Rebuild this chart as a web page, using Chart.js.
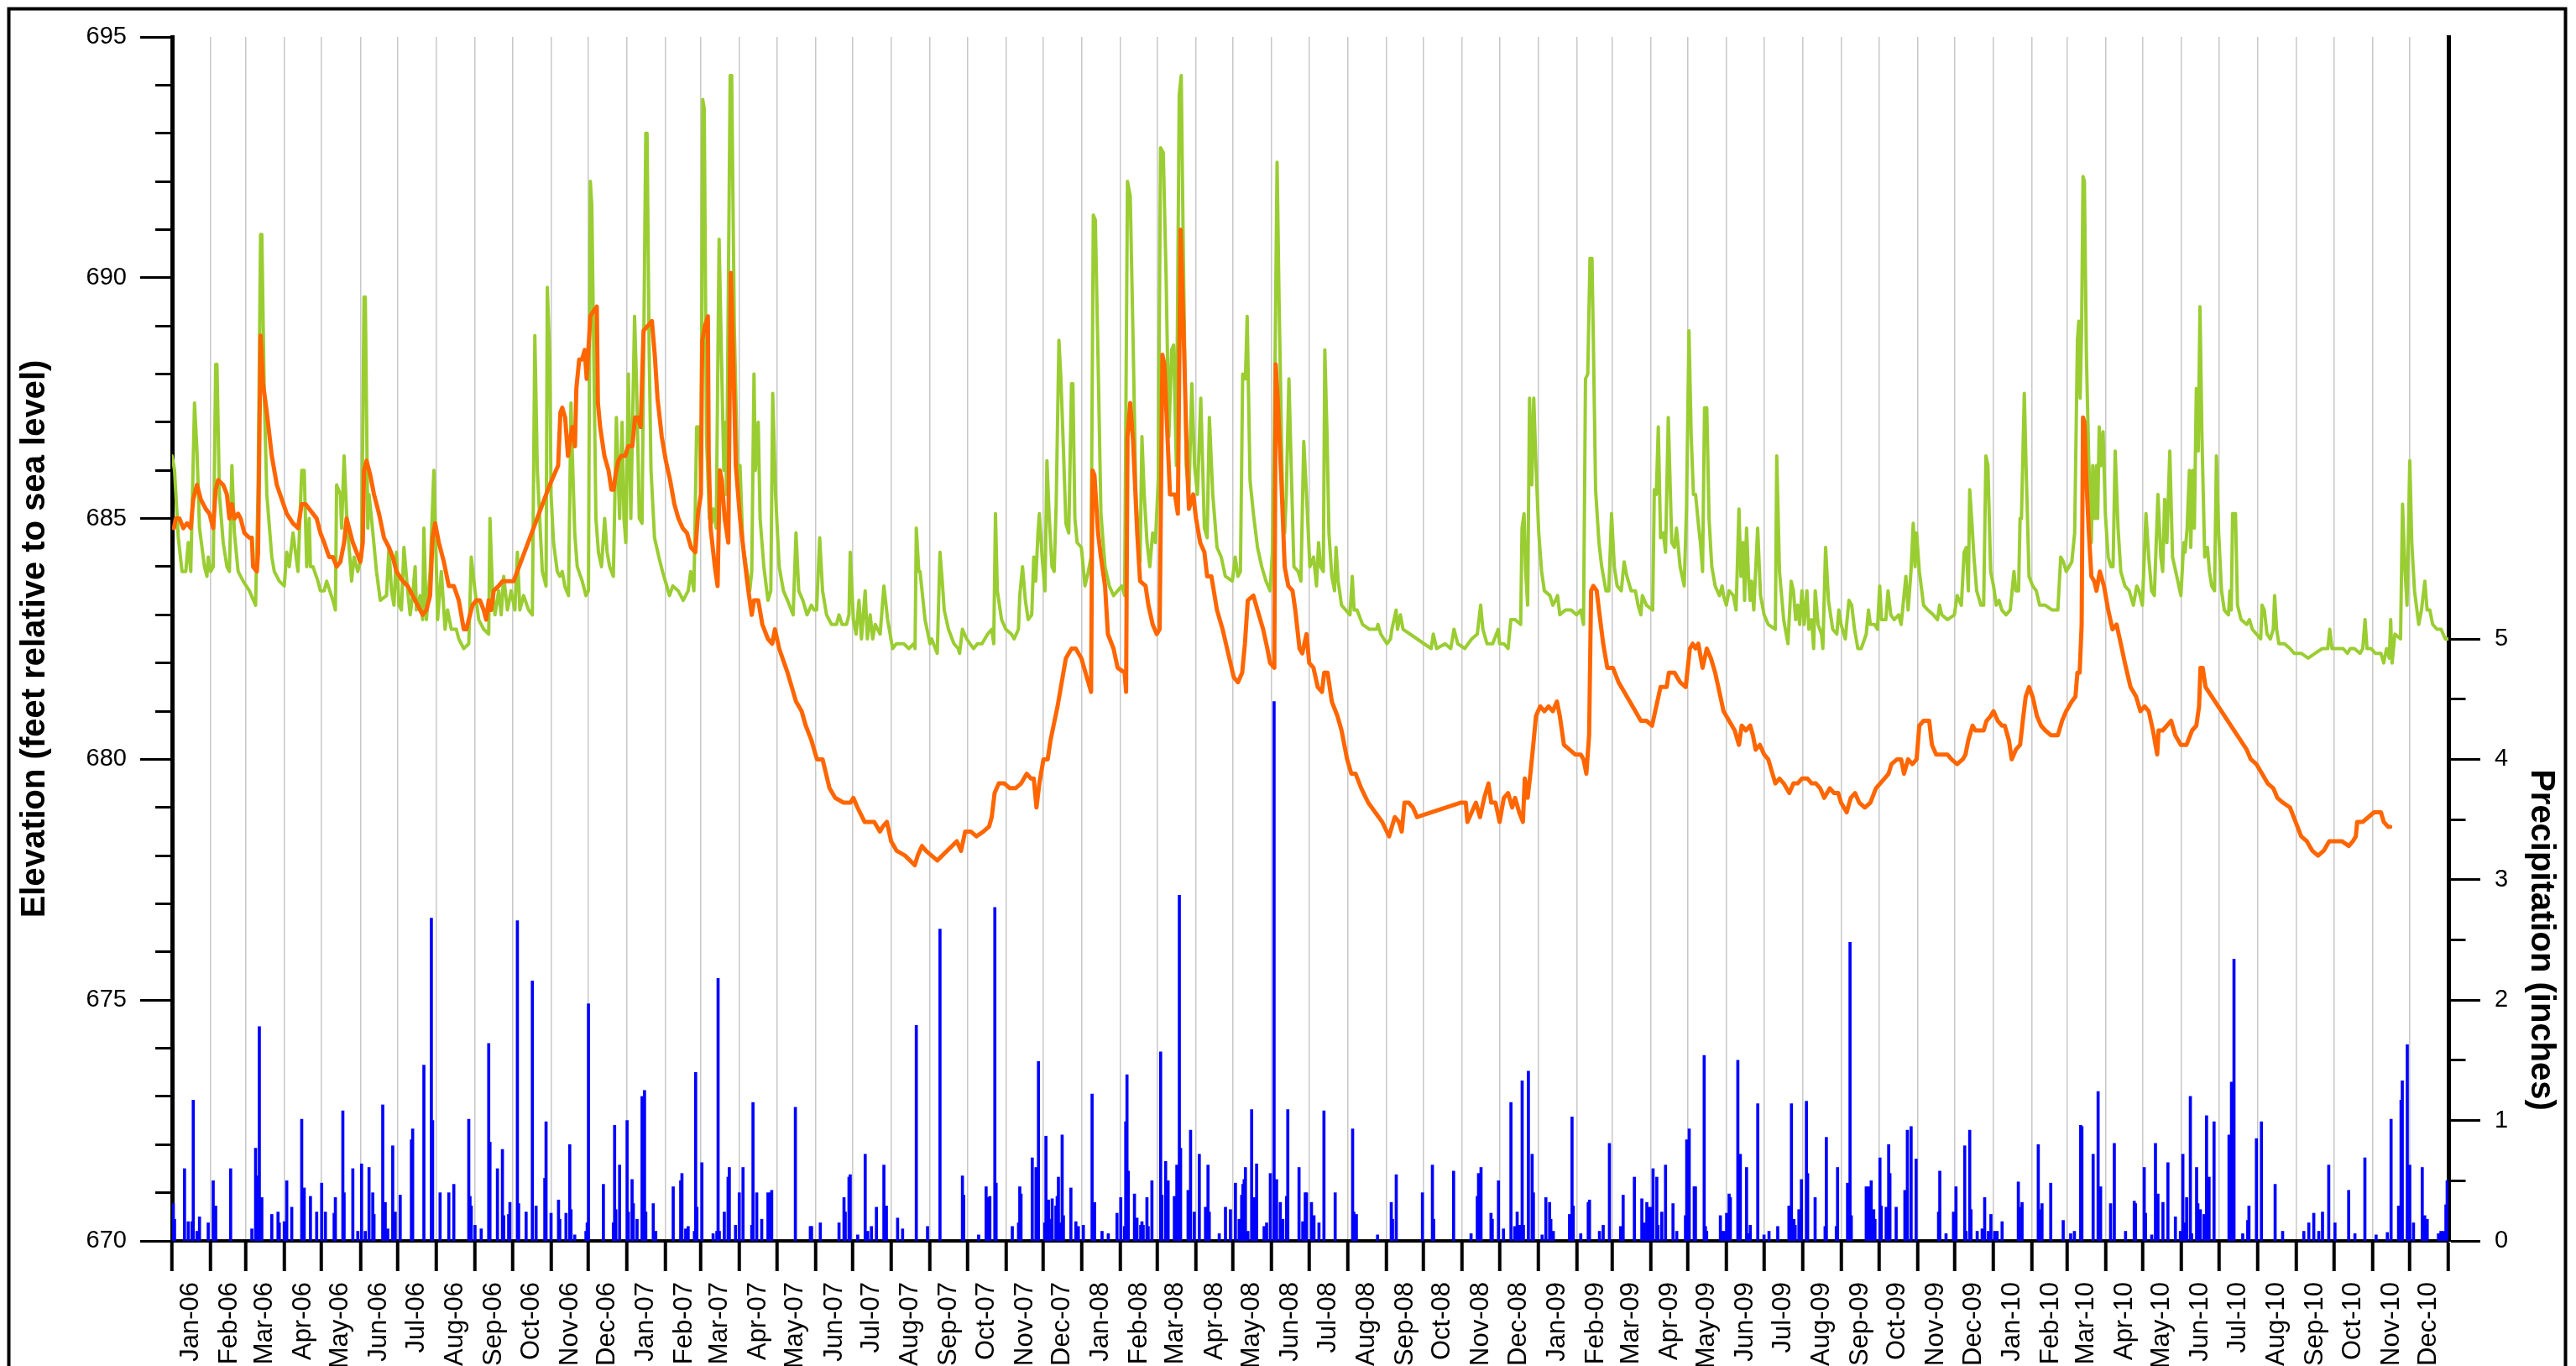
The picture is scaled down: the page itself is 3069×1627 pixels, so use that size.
<!DOCTYPE html>
<html>
<head>
<meta charset="utf-8">
<script src="https://cdn.jsdelivr.net/npm/chart.js@4.4.1/dist/chart.umd.min.js"></script>
<style>
html,body{margin:0;padding:0;background:#fff;overflow:hidden}
canvas{display:block}
</style>
</head>
<body>
<canvas id="c" width="3069" height="1627" style="width:3069px;height:1627px"></canvas>
<script>
// ---------------- DATA ----------------
// x values are days since 1 Jan 2006
const monthNames = ['Jan','Feb','Mar','Apr','May','Jun','Jul','Aug','Sep','Oct','Nov','Dec'];
const yearSuffixes = ['06','07','08','09','10'];
const elevationRange = [670, 695];
const precipitationRange = [0, 5];

// green series: elevation (feet)
const elevGreen = [
[0,686.3],[2,686.0],[5,684.6],[8,683.9],[11,683.9],[13,684.5],[15,683.9],[18,687.4],[20,686.4],[22,684.8],[26,684.0],[28,683.8],[29,684.2],[31,683.9],[33,684.0],[35,688.2],[36,688.2],[38,685.5],[41,684.5],[44,684.0],[46,683.9],[48,686.1],[50,684.7],[53,683.9],[57,683.7],[62,683.5],[67,683.2],[69,685.6],[71,690.9],[72,690.9],[74,687.5],[76,685.5],[80,684.2],[82,683.9],[86,683.7],[90,683.6],[92,684.3],[94,684.0],[97,684.7],[101,683.9],[104,686.0],[106,686.0],[108,684.0],[110,685.0],[111,684.0],[113,684.0],[117,683.7],[119,683.5],[122,683.5],[124,683.7],[129,683.3],[131,683.1],[132,685.7],[135,685.5],[136,684.8],[138,686.3],[140,685.1],[144,683.7],[146,684.2],[149,683.9],[152,684.2],[154,689.6],[155,689.6],[157,684.8],[158,685.5],[160,685.0],[164,683.9],[167,683.3],[172,683.4],[174,684.4],[176,683.5],[178,683.2],[180,684.3],[182,683.2],[184,683.1],[186,684.4],[189,683.5],[191,683.0],[193,683.4],[195,684.0],[196,683.1],[199,683.4],[201,682.9],[202,684.8],[204,682.9],[207,683.9],[210,686.0],[212,684.0],[213,682.9],[216,683.9],[219,682.7],[221,683.1],[224,682.7],[228,682.7],[230,682.5],[234,682.3],[238,682.4],[240,684.2],[243,683.5],[246,682.9],[250,682.7],[254,682.6],[255,685.0],[257,683.5],[259,683.0],[262,683.5],[264,683.0],[266,683.8],[269,683.1],[272,683.5],[275,683.1],[277,684.3],[279,683.1],[282,683.4],[286,683.1],[289,683.0],[291,688.8],[293,686.0],[297,683.9],[300,683.6],[301,689.8],
[303,688.3],[304,685.5],[306,684.5],[309,683.9],[311,683.8],[313,683.9],[315,683.6],[318,683.4],[320,687.4],[321,686.4],[323,684.7],[325,684.0],[329,683.7],[332,683.4],[334,683.5],[335.5,692.0],[336.7,691.5],[338.5,688.0],[340,685.0],[342,684.3],[344.5,684.0],[347,685.0],[349,684.3],[351,684.0],[354,683.8],[356.4,687.1],[358,685.8],[359,685.0],[361,687.0],[362.5,685.0],[364,684.5],[366,688.0],[368,685.0],[371,689.2],[372.6,687.8],[374.8,685.0],[377,684.9],[380,693.0],[381,693.0],[382.7,688.5],[384.2,686.0],[387,684.6],[390.5,684.2],[393.4,683.9],[396.8,683.6],[399,683.4],[401.7,683.6],[406,683.5],[410,683.3],[414,683.5],[416,683.9],[418.6,683.5],[420.8,686.9],[423,686.9],[424.2,685.5],[425.7,693.7],[426.9,693.5],[428.7,686.7],[431,685.0],[432.7,684.9],[434.3,685.2],[436.5,684.8],[438.8,690.8],[440.6,688.5],[442.6,686.0],[443.9,687.0],[444.8,685.5],[447.7,694.2],[448.9,694.2],[451,689.0],[453.8,685.7],[455.6,686.1],[457.8,684.5],[461.2,683.9],[463.4,683.5],[465,683.9],[466.8,688.0],[467.9,686.0],[470.2,687.0],[471.7,685.0],[474.7,684.0],[478,683.3],[480.3,683.5],[481.8,687.6],[484.1,685.5],[487,684.0],[490.4,683.5],[493.7,683.3],[498.2,683.0],[500.5,684.7],[502.7,683.5],[506,683.3],[509.4,683.0],[512.8,683.2],[515,683.1],[517,683.1],[519.5,684.6],[521.8,683.5],[525,683.0],[529,682.8],[533,682.8],[535,683.0],[537.5,682.8],[541,682.8],[543,683.0],[544,684.3],[546.5,682.9],[548.7,682.6],[551,683.3],[553,682.5],[556,683.5],[557.7,682.5],[560,683.0],[562,682.5],[564,682.8],[568,682.6],[571,683.6],[574,682.9],[578,682.3],[581,682.4],[587,682.4],[591,682.3],[595,682.4],[596,682.3],[597,684.8],[599,683.9],[600,683.9],[604,682.9],[608,682.4],
[609.3,682.5],[613.8,682.2],[616,684.3],[617.8,683.7],[619.4,683.1],[622.8,682.7],[627.2,682.4],[630.6,682.3],[631.7,682.2],[634,682.7],[637.4,682.5],[640,682.4],[643,682.3],[646,682.4],[649.7,682.4],[654.2,682.6],[657.5,682.7],[659.1,682.4],[660.5,685.1],[662,683.5],[665.4,682.9],[668.8,682.7],[673.3,682.6],[675.5,682.5],[678.9,682.7],[680,683.4],[682.2,684.0],[684.5,683.3],[686.7,682.9],[689.6,683.0],[691.2,684.2],[692.8,683.7],[694.6,684.7],[695.7,685.1],[697.9,684.2],[700.2,683.5],[701.8,686.2],[703.5,685.1],[705.8,684.0],[707.6,683.9],[709.2,685.3],[711.4,688.7],[713,687.9],[714.8,686.6],[717,684.9],[719.3,684.7],[721.5,687.8],[722.6,687.8],[724.2,685.0],[726,684.5],[729.4,684.4],[732.3,683.6],[735,683.9],[737.2,684.2],[739,691.3],[740.6,691.2],[742.8,688.3],[745.1,685.1],[748.4,684.0],[751.8,683.6],[755.2,683.4],[758.5,683.5],[761.9,683.6],[764.1,683.4],[766.4,692.0],[768.6,691.7],[770.9,688.7],[773.1,685.5],[776.5,684.1],[778,686.7],[779.8,685.5],[782.1,684.5],[784.3,684.0],[786.6,684.7],[788.8,684.5],[791.1,685.8],[792.9,692.7],[795.1,692.6],[797.4,690.0],[799.6,686.7],[801.8,688.5],[803.4,688.6],[805.6,686.1],[807.9,693.8],[809.5,694.2],[811.3,690.3],[813.5,686.1],[815.7,685.5],[818,687.8],[820.2,686.1],[822.5,685.5],[825.2,687.5],[828.1,684.8],[830.3,684.6],[832.1,687.1],[834.8,685.5],[838.2,684.4],[841.6,684.2],[844.9,683.8],[850.5,683.7],[852.8,684.2],[855,683.8],[857,683.9],[858.8,688.0],[861,687.9],[862.4,689.2],[864.7,685.8],[867.4,685.1],[870.7,684.4],[874.1,684.0],[877.5,683.7],[880.8,683.5],[882.6,684.3],[884.2,686.8],[886.4,692.4],[888,689.5],[890.9,685.3],[892.5,684.7],[893.8,685.5],[895.9,687.9],[897.7,686.1],[899.9,684.0],[903.3,683.9],[905.5,683.7],[907.8,686.6],[910,685.5],[912.7,684.0],
[915.7,684.2],[918,683.6],[919.7,684.5],[921.3,684.0],[923.5,683.9],[924.7,688.5],[926.5,686.7],[928,684.7],[930.3,683.8],[932.5,683.5],[933.7,684.4],[935.4,683.7],[938.1,683.2],[941.5,683.1],[944.9,683.0],[946.7,683.8],[948.2,683.1],[950.5,683.1],[955,682.8],[960.6,682.7],[966.2,682.7],[967.3,682.8],[969.6,682.6],[974.5,682.4],[977.4,682.5],[978.5,682.7],[981.9,683.1],[983,682.7],[985.3,683.0],[987.5,682.7],[993.1,682.6],[998.7,682.5],[1004.3,682.4],[1010,682.3],[1011.7,682.6],[1014.4,682.3],[1021.2,682.4],[1025.7,682.3],[1028.3,682.7],[1031.3,682.4],[1036.9,682.3],[1042.5,682.5],[1047,682.6],[1049.7,683.2],[1051.5,682.7],[1054.8,682.4],[1059.3,682.4],[1063.8,682.7],[1064.9,682.4],[1068.3,682.4],[1071.7,682.3],[1073.9,682.9],[1077.3,682.9],[1081.8,682.8],[1082.9,684.8],[1084.5,685.1],[1085.8,683.9],[1087.4,683.2],[1088.9,687.5],[1090.7,685.7],[1092.3,687.5],[1094.1,686.1],[1096.3,684.7],[1098.6,683.9],[1100.8,683.5],[1105.3,683.4],[1107.6,683.2],[1109.8,683.3],[1111.4,683.4],[1113.2,683.0],[1117.7,683.1],[1122.2,683.1],[1126.6,683.0],[1130,683.1],[1132.2,682.8],[1133.8,687.9],[1135.6,688.0],[1137.4,690.4],[1139,690.4],[1140.1,688.7],[1141.9,685.6],[1144.6,684.5],[1146.8,684.0],[1150.2,683.5],[1152.5,683.5],[1154.7,685.1],[1156.9,684.0],[1159.2,683.6],[1162.5,683.5],[1164.8,684.1],[1167,683.8],[1170.4,683.5],[1173.8,683.5],[1176,683.2],[1178.2,683.0],[1179.4,683.4],[1182.7,683.2],[1187.7,683.1],[1189,685.6],[1190.6,685.5],[1192.2,686.9],[1194,684.6],[1196.2,684.7],[1198,684.3],[1200.2,687.1],[1203,684.5],[1205.2,684.4],[1206.8,684.8],[1209.7,684.0],[1213,683.6],[1214.8,685.2],[1216.8,688.9],[1218.6,686.7],[1220.4,685.5],
[1222.1,685.5],[1224.3,684.9],[1226,684.5],[1227.7,683.9],[1229.3,687.3],[1231.1,687.3],[1232.9,685.0],[1235.1,684.0],[1237.8,683.6],[1241.2,683.4],[1243.4,683.6],[1244.5,683.4],[1246.8,683.2],[1249,683.5],[1252.4,683.4],[1254.6,683.1],[1256.9,685.2],[1258.5,683.8],[1260.2,684.5],[1261.4,683.3],[1263,684.8],[1264.7,683.7],[1265.9,683.3],[1267,683.7],[1268.8,683.1],[1271.9,684.8],[1274.2,683.4],[1277.1,683.0],[1280.4,682.8],[1286.1,682.7],[1287.2,686.3],[1289.4,683.9],[1292.8,682.9],[1296.2,682.4],[1298.8,683.7],[1300.6,683.5],[1302.4,682.9],[1304,683.2],[1305.6,682.8],[1307.4,683.5],[1309.2,682.8],[1311.4,683.5],[1313,682.7],[1315.2,682.9],[1316.8,682.3],[1318.1,683.5],[1320.4,682.8],[1323.1,682.6],[1324.2,682.3],[1326.4,684.4],[1328.7,683.3],[1332.1,682.7],[1335.4,682.6],[1337,683.1],[1338.8,682.8],[1342.2,682.5],[1345.1,683.3],[1347.3,683.2],[1349.6,682.7],[1352.3,682.3],[1355,682.3],[1359,682.6],[1360.8,683.1],[1362.3,682.8],[1365.7,682.8],[1368,682.7],[1369.8,683.6],[1371.3,682.9],[1374.7,682.9],[1376.5,683.5],[1378.7,683.0],[1381.4,682.9],[1385,683.0],[1387,682.8],[1390.8,683.8],[1392.6,683.1],[1394.9,683.9],[1396.7,684.9],[1398.2,684.0],[1399.4,684.7],[1401.6,683.9],[1405,683.2],[1408.4,683.1],[1412.8,683.0],[1416.2,682.9],[1417.8,683.2],[1419.6,683.0],[1424.1,682.9],[1429.7,683.0],[1431.9,683.4],[1435.3,683.2],[1437.5,684.3],[1439.3,684.4],[1440.9,683.5],[1442,685.6],[1443.8,684.9],[1445.4,684.2],[1447.6,683.5],[1451,683.2],[1453.2,683.2],[1455,686.3],[1456.6,686.1],[1458.8,683.9],[1461.1,683.6],[1463.3,683.2],[1465.5,683.3],[1467.8,683.1],[1471.2,683.0],[1474.5,683.1],[1477.5,683.9],[1479,683.5],[1481.2,683.5],[1482.4,685.0],[1483.5,685.0],[1485.8,687.6],[1487.3,686.0],[1489.6,683.8],[1492.5,683.6],[1495.4,683.5],[1498.1,683.2],[1502.6,683.2],[1508.2,683.1],[1512.7,683.1],[1515,684.2],[1517.2,684.1],[1519.4,683.9],[1523.9,684.1],[1526.2,684.7],[1528.4,688.7],
[1529.5,689.1],[1530.6,687.5],[1531.8,689.0],[1532.9,692.1],[1534,692.0],[1535.6,688.4],[1537.4,686.3],[1539.6,684.5],[1540.7,686.1],[1542.3,685.0],[1543.7,686.1],[1544.6,685.0],[1545.9,686.9],[1547.5,686.1],[1549,686.8],[1550.8,685.1],[1553.1,684.2],[1555.3,684.0],[1557,684.0],[1558.7,686.4],[1561,684.8],[1563.2,683.9],[1566.5,683.6],[1569.9,683.5],[1573.3,683.2],[1576,683.6],[1577.8,683.5],[1580.5,683.2],[1583.4,685.1],[1585.6,684.2],[1587.9,683.5],[1590.1,683.4],[1593,685.5],[1595.3,684.2],[1596.8,683.9],[1598.4,685.4],[1600.2,684.5],[1602.5,686.4],[1604.7,684.2],[1608.1,683.8],[1611.4,683.4],[1613.7,684.5],[1614.8,684.3],[1616.4,684.8],[1618.2,686.0],[1619.3,684.4],[1620.9,686.0],[1622.2,684.8],[1623.8,687.7],[1625.3,686.4],[1626.7,689.4],[1628.3,686.7],[1630.5,684.2],[1632.7,684.4],[1634.3,683.9],[1636.1,683.6],[1638.4,683.5],[1639.9,686.3],[1641.7,684.7],[1644,683.5],[1646.2,683.1],[1649.6,683.0],[1650.7,683.5],[1651.8,683.1],[1652.9,685.1],[1655.2,685.1],[1656.8,683.2],[1659.7,682.9],[1664.2,682.8],[1666.4,682.9],[1668.7,682.7],[1672,682.6],[1675.4,682.5],[1676.5,683.2],[1678.3,683.1],[1680.5,682.6],[1683.2,682.5],[1685.5,682.7],[1686.6,683.4],[1688.2,682.7],[1690,682.4],[1694.5,682.4],[1699,682.3],[1702.3,682.2],[1707.9,682.2],[1713.5,682.1],[1719.1,682.2],[1724.8,682.3],[1729.2,682.3],[1730.8,682.7],[1732.6,682.3],[1737.1,682.3],[1741.6,682.3],[1745,682.2],[1747.2,682.3],[1750.6,682.3],[1755.1,682.2],[1757.3,682.3],[1759.1,682.9],[1760.7,682.3],[1764,682.3],[1767.4,682.2],[1771.9,682.2],[1774.1,682.0],[1776.4,682.3],[1778.6,682.1],[1779.7,682.9],[1780.8,682.0],[1783.1,682.6],[1787.6,682.5],[1789.2,685.3],[1791,684.0],[1792.8,683.2],[1795,686.2],[1796.6,684.5],[1798.8,683.5],[1802.2,682.8],[1804.4,683.1],[1807.1,683.7],[1808.9,683.1],[1811.1,683.1],[1813.4,682.8],[1816.8,682.7],[1820.1,682.7],[1823.5,682.5],[1826,682.5]
];

// orange series: elevation (feet)
const elevOrange = [
[1.5,684.8],[3,685.0],[6,685.0],[9,684.8],[12,684.9],[15,684.8],[17,685.4],[20,685.7],[23,685.4],[27,685.2],[30,685.1],[33,684.8],[35,685.6],[37,685.8],[41,685.7],[44,685.5],[46,685.0],[48,685.3],[50,685.0],[53,685.1],[55,685.0],[58,684.7],[62,684.6],[64,684.6],[65,684.0],[68,683.9],[69,684.3],[71,688.8],[73,687.8],[76,687.2],[80,686.3],[84,685.7],[88,685.4],[92,685.1],[97,684.9],[101,684.8],[104,685.3],[107,685.3],[110,685.2],[113,685.1],[116,685.0],[119,684.7],[122,684.5],[126,684.2],[129,684.2],[132,684.0],[135,684.1],[138,684.5],[140,685.0],[142,684.8],[145,684.5],[148,684.3],[151,684.1],[153,684.5],[154,686.0],[156,686.2],[159,685.9],[162,685.5],[166,685.1],[170,684.6],[174,684.4],[177,684.2],[180,683.9],[185,683.7],[189,683.6],[193,683.4],[197,683.2],[201,683.0],[204,683.1],[207,683.4],[209,684.6],[211,684.9],[214,684.5],[218,684.1],[222,683.6],[226,683.6],[230,683.3],[234,682.7],[236,682.7],[238,682.9],[241,683.2],[244,683.3],[247,683.3],[250,683.1],[252,682.9],[254,683.3],[256,683.1],[258,683.5],[262,683.6],[265,683.7],[268,683.7],[271,683.7],[274,683.7],
[303,685.7],[309.7,686.1],[311.5,687.2],[313,687.3],[315.3,687.1],[317.6,686.3],[319,686.6],[321,686.9],[323.2,686.5],[324.3,687.7],[326.6,688.3],[328.8,688.3],[331,688.5],[332.6,687.9],[334.4,688.7],[335.5,689.2],[337.8,689.3],[340.7,689.4],[341.6,687.4],[343.4,686.9],[346.8,686.3],[350.1,686.0],[352.4,685.6],[354.2,685.6],[355.7,685.9],[358,686.2],[360.2,686.3],[363.6,686.3],[365.8,686.5],[369.2,686.5],[371.4,687.1],[373.7,687.1],[375.9,686.9],[378.2,688.9],[384.9,689.1],[387.2,688.4],[389.4,687.5],[392.8,686.7],[396.1,686.2],[399.5,685.8],[402.9,685.3],[406.2,685.0],[409.6,684.8],[413,684.7],[416.3,684.4],[419.7,684.3],[421.9,685.1],[424.2,685.5],[425.3,688.7],[427.5,689.0],[429.8,689.2],[430.5,686.3],[432,684.8],[435.4,684.0],[437.6,683.6],[439.4,686.0],[441,685.8],[443.3,685.0],[446.2,684.5],[448.2,690.1],[450,688.5],[452.2,686.1],[455.6,685.0],[459,684.2],[462.3,683.5],[465,683.0],[466.8,683.3],[470.2,683.3],[473.5,682.8],[478,682.5],[481.4,682.4],[483.6,682.7],[487,682.3],[493.7,681.8],[500.5,681.2],[505,681.0],[508.3,680.7],[512.8,680.4],[517.3,680.0],[521.8,680.0],[527.4,679.4],[531.9,679.2],[538.6,679.1],[544.2,679.1],[546.5,679.2],[549.8,679.0],[555.5,678.7],[563.3,678.7],[567.8,678.5],[570,678.6],[573.4,678.7],[576.8,678.3],[581.3,678.1],[588,678.0],[595.8,677.8],[598.1,678.0],[601.5,678.2],[604.8,678.1],[609.3,678.0],
[613.8,677.9],[629.5,678.3],[632.9,678.1],[636.2,678.5],[640.7,678.5],[645.2,678.4],[650.8,678.5],[655.3,678.6],[657.5,678.8],[659.8,679.3],[663.2,679.5],[667.6,679.5],[672.1,679.4],[676.6,679.4],[681.1,679.5],[685.6,679.7],[689,679.6],[691.2,679.6],[693.4,679.0],[695.7,679.5],[699,680.0],[702.4,680.0],[704.7,680.4],[710.3,681.1],[717,682.1],[721.5,682.3],[724.9,682.3],[729.4,682.1],[733.8,681.7],[737.2,681.4],[738.3,686.0],[739.9,685.9],[742.8,684.7],[745.1,684.2],[748.4,683.6],[750.7,682.6],[755.2,682.3],[758.5,681.9],[764.1,681.8],[765.3,681.4],[766.4,686.7],[768.6,687.4],[770.9,686.6],[774.2,684.7],[776.5,683.7],[780.9,683.6],[783.2,683.2],[786.6,682.8],[789.9,682.6],[792.2,682.7],[794.4,688.4],[796,688.2],[799,686.4],[800.5,685.5],[804.5,685.5],[806.8,685.1],[809,691.0],[811.3,689.0],[814,686.3],[815.7,685.2],[819.1,685.5],[821.4,685.0],[824.7,684.5],[828.1,684.3],[830.3,683.8],[833.7,683.8],[838.2,683.1],[842.7,682.7],[847.2,682.2],[851.7,681.7],[855,681.6],[858.4,681.8],[860.6,682.4],[862.9,683.3],[867.4,683.4],[870.7,683.1],[875.2,682.7],[878.6,682.3],[880.8,682.0],[884.2,681.9],[885.3,688.2],[887.1,687.4],[889.8,685.8],[892.5,684.0],[895.4,683.6],[898.8,683.5],[901,683.1],[904.4,682.3],[906.6,682.2],[910,682.6],[912.2,682.0],[915.6,681.9],
[919,681.5],[922.4,681.4],[924.2,681.8],[926.9,681.8],[930.3,681.2],[934.8,680.9],[938.1,680.6],[942.6,680.0],[946,679.7],[949.4,679.7],[953.9,679.4],[959.5,679.1],[965.1,678.9],[970.7,678.7],[976.3,678.4],[978.5,678.6],[980.8,678.8],[984.1,678.7],[986.4,678.5],[988.6,679.1],[992,679.1],[995.4,679.0],[998.7,678.8],[1033.5,679.1],[1037.8,679.1],[1039.1,678.7],[1042.5,678.9],[1045.9,679.1],[1049.2,678.8],[1052.6,679.2],[1056,679.5],[1058.2,679.1],[1061.6,679.1],[1064.9,678.7],[1068.3,679.2],[1071.7,679.3],[1075,679.0],[1077.3,679.2],[1080.6,678.9],[1083.6,678.7],[1085.1,679.6],[1087.4,679.2],[1089.6,679.7],[1091.9,680.3],[1094.1,680.9],[1097.5,681.1],[1100.8,681.0],[1104.2,681.1],[1107.6,681.0],[1110.9,681.2],[1113.2,680.9],[1116.5,680.3],[1121,680.2],[1125.5,680.1],[1130,680.1],[1132.2,680.0],[1134.5,679.7],[1136.7,680.5],[1138.3,683.5],[1140.1,683.6],[1142.8,683.5],[1144.6,683.1],[1148,682.4],[1151.3,681.9],[1155.8,681.9],[1160.3,681.6],[1164.8,681.4],[1169.3,681.2],[1173.8,681.0],[1178.2,680.8],[1182.7,680.8],[1187.2,680.7],[1190.6,681.1],[1194,681.5],[1197.3,681.5],[1198.9,681.5],[1200.7,681.8],[1205.2,681.8],[1209.7,681.6],[1214.2,681.5],[1217.5,682.3],[1219.8,682.4],
[1222.1,682.3],[1224.3,682.4],[1227.7,681.9],[1231.1,682.3],[1234.4,682.1],[1237.8,681.8],[1241.2,681.4],[1244.5,681.0],[1249,680.8],[1253.5,680.6],[1256.9,680.3],[1259.1,680.7],[1262.5,680.6],[1265.9,680.7],[1268.1,680.5],[1270.3,680.2],[1273.7,680.3],[1277.1,680.1],[1280.4,680.0],[1283.8,679.7],[1286.1,679.5],[1289.4,679.6],[1292.8,679.5],[1297.3,679.3],[1300.6,679.5],[1304,679.5],[1307.4,679.6],[1311.9,679.6],[1315.2,679.5],[1318.6,679.5],[1322,679.4],[1325.3,679.2],[1329.8,679.4],[1333.2,679.3],[1336.5,679.3],[1338.8,679.1],[1343.3,678.9],[1346.6,679.2],[1350,679.3],[1353.4,679.1],[1357.9,679.0],[1362.3,679.1],[1366.8,679.4],[1370.2,679.5],[1373.6,679.6],[1376.9,679.7],[1379.2,679.9],[1383.7,680.0],[1387,680.0],[1389.3,679.7],[1392.6,680.0],[1396,679.9],[1399.4,680.0],[1401.6,680.7],[1405,680.8],[1409.5,680.8],[1411.7,680.3],[1415.1,680.1],[1419.6,680.1],[1424.1,680.1],[1427.4,680.0],[1431.9,679.9],[1436.4,680.0],[1438.6,680.1],[1440.9,680.4],[1444.3,680.7],[1446.5,680.6],[1449.9,680.6],[1453.2,680.6],[1455.5,680.8],[1458.8,680.9],[1461.1,681.0],[1464.5,680.8],[1467.8,680.7],[1470.1,680.7],[1473.4,680.4],[1475.7,680.0],[1479,680.2],[1482.4,680.3],[1484.6,680.8],[1486.9,681.3],[1489.6,681.5],[1492.5,681.3],[1495.9,680.9],[1499.2,680.7],[1502.6,680.6],[1507.1,680.5],[1512.7,680.5],[1516.1,680.8],[1519.4,681.0],[1523.9,681.2],[1526.8,681.3],[1528.4,681.8],
[1530.2,681.8],[1531.8,682.8],[1532.9,687.1],[1534,687.0],[1535.6,685.8],[1537.4,684.8],[1539.6,683.8],[1541.9,683.7],[1543.7,683.5],[1546.4,683.9],[1549.7,683.6],[1553.1,683.1],[1556.5,682.7],[1559.8,682.8],[1563.2,682.4],[1566.5,682.0],[1571,681.5],[1575.5,681.3],[1578.9,681.0],[1582.3,681.1],[1585.6,681.0],[1589,680.6],[1592.4,680.1],[1593.5,680.6],[1596.8,680.6],[1600.2,680.7],[1603.6,680.8],[1606.9,680.5],[1611.4,680.3],[1615.9,680.3],[1620.4,680.6],[1623.8,680.7],[1626,681.1],[1627.1,681.9],[1628.9,681.9],[1631.2,681.5],[1664.2,680.2],[1667.5,680.0],[1672,679.9],[1676.5,679.7],[1681,679.5],[1685.5,679.4],[1688.8,679.2],[1693.3,679.1],[1698.9,679.0],[1703.4,678.7],[1707.9,678.4],[1712.4,678.3],[1716.9,678.1],[1721.4,678.0],[1725.9,678.1],[1730.4,678.3],[1734.8,678.3],[1740.5,678.3],[1746.1,678.2],[1749.4,678.3],[1751.7,678.4],[1752.8,678.7],[1757.3,678.7],[1761.8,678.8],[1766.3,678.9],[1771.9,678.9],[1774.1,678.7],[1777.5,678.6],[1779.3,678.6]
];

// daily precipitation (inches)
const precipitation = [
[1,0.31],[2,0.18],[10,0.60],[13,0.16],[16,0.16],[17,1.17],[20,0.08],[22,0.20],[29,0.15],[33,0.50],[35,0.29],[47,0.60],[64,0.10],[67,0.77],[68,0.54],[70,1.78],[72,0.36],[80,0.22],[85,0.24],[86,0.15],[90,0.16],[92,0.50],[96,0.28],[104,1.01],[106,0.44],[111,0.37],[116,0.24],[120,0.48],[123,0.24],[130,0.23],[131,0.36],[137,1.08],[138,0.40],[145,0.60],[149,0.08],[152,0.64],[155,0.08],[158,0.61],[161,0.40],[162,0.22],[169,1.13],[171,0.32],[173,0.10],[177,0.79],[179,0.24],[183,0.38],[192,0.84],[193,0.93],[202,1.46],[208,2.68],[209,1.00],[215,0.40],[222,0.40],[226,0.47],[238,1.01],[239,0.37],[240,0.29],[243,0.13],[248,0.10],[254,1.64],[255,0.82],[261,0.60],[265,0.76],[266,0.21],[270,0.22],[271,0.32],[277,2.66],[278,0.31],[284,0.24],[289,2.16],[292,0.29],[299,0.52],[300,0.99],
[304,0.23],[310,0.34],[311,0.18],[316,0.23],[319,0.80],[320,0.26],[323,0.05],[332,0.08],[333,0.15],[334,1.97],[346,0.47],[354,0.15],[355,0.96],[356,0.26],[359,0.63],[365,1.00],[366,0.24],[369,0.51],[370,0.31],[373,0.18],[377,1.20],[378,0.53],[379,1.25],[380,0.24],[386,0.31],[388,0.08],[402,0.45],[408,0.50],[409,0.56],[412,0.10],[414,0.12],[419,0.08],[420,1.40],[421,0.28],[425,0.65],[434,0.06],[437,0.08],[438,2.18],[439,0.08],[443,0.24],[446,0.53],[447,0.61],[452,0.13],[455,0.40],[458,0.61],[465,0.13],[466,1.15],[469,0.40],[473,0.18],[478,0.40],[480,0.40],[481,0.42],[500,1.11],[512,0.12],[513,0.12],[520,0.15],[535,0.15],[539,0.36],[540,0.24],[543,0.53],[544,0.55],[550,0.05],[556,0.72],[558,0.08],[561,0.12],[565,0.28],[571,0.63],[573,0.29],[582,0.19],[586,0.10],[597,1.79],[606,0.12],
[616,2.59],[634,0.54],[635,0.38],[647,0.05],[653,0.45],[655,0.36],[656,0.37],[660,2.77],[661,0.48],[674,0.12],[679,0.15],[680,0.45],[681,0.39],[690,0.69],[693,0.61],[695,1.49],[700,0.15],[701,0.87],[702,0.34],[703,0.34],[705,0.18],[706,0.35],[709,0.29],[710,0.37],[711,0.53],[713,0.15],[714,0.88],[715,0.21],[721,0.44],[725,0.16],[727,0.12],[731,0.13],[738,1.22],[740,0.32],[746,0.08],[751,0.06],[758,0.23],[761,0.36],[764,0.12],[765,0.99],[766,1.38],[767,0.58],[772,0.39],[774,0.19],[777,0.13],[778,0.16],[779,0.13],[782,0.36],[783,0.12],[786,0.50],[793,1.57],[794,0.38],[797,0.66],[799,0.50],[804,0.37],[806,0.63],[808,2.87],[809,0.77],[815,0.42],[817,0.92],[820,0.24],[824,0.72],[829,0.28],[831,0.63],[832,0.24],[840,0.06],[845,0.28],[849,0.26],[853,0.48],[856,0.18],[858,0.38],[859,0.47],[860,0.51],[861,0.61],[863,0.08],[866,1.09],[868,0.36],[870,0.64],[876,0.12],[878,0.15],[881,0.56],[884,4.48],[886,0.51],[889,0.32],[891,0.18],[894,0.37],[895,1.09],[904,0.61],[907,0.16],[909,0.40],[910,0.40],[914,0.32],
[916,0.21],[920,0.15],[924,1.08],[933,0.40],[947,0.93],[948,0.24],[950,0.22],[967,0.05],[978,0.32],[979,0.18],[982,0.55],[1003,0.40],[1011,0.63],[1012,0.18],[1028,0.58],[1042,0.06],[1047,0.37],[1048,0.56],[1050,0.61],[1058,0.23],[1059,0.18],[1064,0.50],[1068,0.10],[1074,1.15],[1077,0.12],[1079,0.24],[1081,0.13],[1083,1.33],[1084,0.13],[1088,1.41],[1091,0.72],[1092,0.40],[1099,0.05],[1102,0.36],[1105,0.32],[1106,0.18],[1108,0.08],[1121,0.22],[1123,1.03],[1124,0.29],[1130,0.06],[1136,0.32],[1137,0.34],[1145,0.08],[1148,0.13],[1153,0.81],[1162,0.12],[1164,0.38],[1173,0.53],[1179,0.35],[1181,0.15],[1183,0.32],[1184,0.28],[1186,0.28],[1188,0.60],[1191,0.53],[1192,0.13],[1195,0.24],[1198,0.63],[1204,0.31],[1207,0.08],[1214,0.21],[1215,0.84],[1217,0.93],[1221,0.45],
[1222,0.45],[1229,1.54],[1230,0.12],[1231,0.08],[1242,0.21],[1243,0.08],[1245,0.08],[1247,0.23],[1249,0.39],[1250,0.36],[1256,1.50],[1258,0.72],[1263,0.61],[1265,0.06],[1266,0.13],[1272,1.14],[1277,0.05],[1281,0.08],[1288,0.12],[1297,0.29],[1299,1.14],[1301,0.18],[1302,0.13],[1305,0.26],[1307,0.51],[1311,1.16],[1312,0.56],[1318,0.36],[1326,0.12],[1327,0.86],[1335,0.12],[1336,0.61],[1344,0.48],[1346,2.48],[1347,0.21],[1359,0.45],[1361,0.45],[1363,0.50],[1365,0.26],[1366,0.18],[1370,0.69],[1371,0.29],[1375,0.28],[1377,0.80],[1378,0.56],[1383,0.28],[1390,0.42],[1392,0.92],[1395,0.95],[1399,0.68],[1417,0.24],[1418,0.58],[1423,0.06],[1429,0.24],[1431,0.45],[1438,0.79],[1439,0.08],[1442,0.92],[1443,0.26],[1448,0.08],[1452,0.10],[1454,0.36],[1457,0.08],[1459,0.22],[1462,0.08],[1464,0.08],[1468,0.16],[1481,0.49],[1482,0.28],[1484,0.32],[1497,0.80],[1499,0.26],[1500,0.31],[1507,0.48],[1517,0.17],[1523,0.06],[1526,0.08],
[1531,0.96],[1532,0.95],[1541,0.72],[1545,1.24],[1547,0.45],[1555,0.31],[1558,0.81],[1567,0.08],[1574,0.33],[1575,0.31],[1582,0.61],[1583,0.23],[1588,0.05],[1591,0.81],[1593,0.39],[1597,0.32],[1601,0.65],[1607,0.20],[1611,0.08],[1613,0.72],[1615,0.15],[1616,0.36],[1619,1.20],[1620,0.06],[1624,0.61],[1625,0.31],[1627,0.26],[1630,0.22],[1632,1.04],[1634,0.53],[1638,0.99],[1650,0.88],[1652,1.32],[1654,2.34],[1661,0.06],[1665,0.17],[1666,0.29],[1672,0.85],[1676,0.99],[1687,0.47],[1693,0.08],[1710,0.08],[1714,0.15],[1718,0.23],[1722,0.08],[1725,0.24],[1730,0.63],[1735,0.15],[1746,0.42],[1751,0.06],[1759,0.69],[1768,0.05],[1777,0.07],[1780,1.01],[1786,0.29],[1788,1.17],[1789,1.33],[1793,1.63],[1795,0.63],[1798,0.15],[1805,0.61],[1807,0.21],[1809,0.18],[1818,0.06],[1820,0.08],[1822,0.08],[1824,0.30],[1825,0.50]
];

// ---------------- CHART ----------------
const FONT = '"Liberation Sans", Arial, Helvetica, sans-serif';
Chart.defaults.font.family = FONT;
Chart.defaults.color = '#000';

const monthLabels = [];
yearSuffixes.forEach(y => monthNames.forEach(m => monthLabels.push(m + '-' + y)));
const DAY0 = Date.UTC(2006, 0, 1);
const monthStarts = [];
for (let i = 0; i <= monthLabels.length; i++) {
  monthStarts.push((Date.UTC(2006, i, 1) - DAY0) / 86400000);
}
const lastDay = monthStarts[monthStarts.length - 1];
const toXY = arr => arr.map(([x, y]) => ({x, y}));

const framePlugin = {
  id: 'frame',
  beforeDraw(chart) {
    const {ctx, width, height} = chart;
    ctx.save(); ctx.fillStyle = '#fff'; ctx.fillRect(0, 0, width, height); ctx.restore();
  },
  afterDraw(chart) {
    const {ctx} = chart;
    ctx.save(); ctx.strokeStyle = '#000'; ctx.lineWidth = 4;
    ctx.strokeRect(10.5, 10.5, 3046, 1700); ctx.restore();
  }
};

new Chart(document.getElementById('c'), {
  type: 'bar',
  data: {
    datasets: [
      { type: 'line', label: 'Orange', data: toXY(elevOrange), yAxisID: 'y',
        borderColor: '#ff6600', borderWidth: 5, pointRadius: 0, tension: 0,
        borderJoinStyle: 'round', borderCapStyle: 'round', order: 0 },
      { type: 'line', label: 'Green', data: toXY(elevGreen), yAxisID: 'y',
        borderColor: '#9acd32', borderWidth: 4, pointRadius: 0, tension: 0,
        borderJoinStyle: 'round', borderCapStyle: 'round', order: 1 },
      { type: 'bar', label: 'Precipitation', data: toXY(precipitation), yAxisID: 'yP',
        backgroundColor: '#0000ff', borderWidth: 0, barThickness: 3, grouped: false, order: 2 }
    ]
  },
  options: {
    responsive: false,
    animation: false,
    devicePixelRatio: 1,
    layout: { padding: { top: 44, left: 0, right: 0, bottom: 0 } },
    plugins: { legend: { display: false }, tooltip: { enabled: false }, title: { display: false } },
    scales: {
      x: {
        type: 'linear', min: 0, max: lastDay, offset: false,
        afterBuildTicks: s => { s.ticks = monthStarts.map(v => ({ value: v })); },
        afterFit: s => { s.height = 149; },
        grid: { display: true, drawOnChartArea: true, offset: false, color: '#c8c8c8', lineWidth: 1.5,
                drawTicks: true, tickLength: 36, tickWidth: 4, tickColor: '#000' },
        border: { display: true, color: '#000', width: 4 },
        ticks: { autoSkip: false, minRotation: 90, maxRotation: 90, labelOffset: 22.6, padding: 13,
                 font: { size: 31 }, color: '#000',
                 callback: (v, i) => monthLabels[i] || '' }
      },
      y: {
        type: 'linear', position: 'left', min: elevationRange[0], max: elevationRange[1],
        afterFit: s => { s.width = 205; },
        grid: { display: true, drawOnChartArea: false, drawTicks: true, tickLength: 38, tickWidth: 3,
                tickColor: '#000',
                tickBorderDash: c => (c.tick && c.tick.value % 5 !== 0) ? [0, 18, 18, 1000] : [] },
        border: { display: true, color: '#000', width: 5 },
        ticks: { stepSize: 1, autoSkip: false, padding: 16, font: { size: 29 }, color: '#000',
                 callback: v => (v % 5 === 0 ? String(v) : '') },
        title: { display: true, text: 'Elevation (feet relative to sea level)',
                 font: { size: 40, weight: 'bold' }, color: '#000', padding: { top: 18, bottom: 0 } }
      },
      yTop: {
        type: 'linear', position: 'right', stack: 'right', stackWeight: 1, min: 5, max: 10,
        afterFit: s => { s.width = 152; },
        grid: { display: false },
        ticks: { display: false },
        border: { display: true, color: '#000', width: 5 }
      },
      yP: {
        type: 'linear', position: 'right', stack: 'right', stackWeight: 1,
        min: precipitationRange[0], max: precipitationRange[1],
        afterFit: s => { s.width = 152; },
        grid: { display: true, drawOnChartArea: false, drawTicks: true, tickLength: 38, tickWidth: 3,
                tickColor: '#000',
                tickBorderDash: c => (c.tick && !Number.isInteger(c.tick.value)) ? [17.5, 1000] : [] },
        border: { display: true, color: '#000', width: 5 },
        ticks: { stepSize: 0.5, autoSkip: false, padding: 17, font: { size: 29 }, color: '#000',
                 callback: v => (Number.isInteger(v) ? String(v) : '') },
        title: { display: true, text: 'Precipitation (inches)',
                 font: { size: 40, weight: 'bold' }, color: '#000', padding: { top: 18, bottom: 0 } }
      }
    }
  },
  plugins: [framePlugin]
});
</script>
</body>
</html>
